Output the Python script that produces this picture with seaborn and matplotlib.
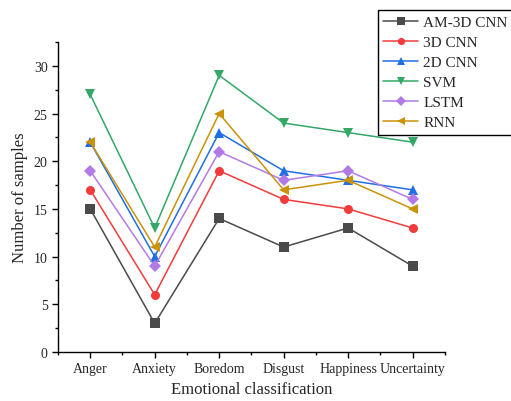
import matplotlib
matplotlib.use("Agg")
import matplotlib.pyplot as plt
import seaborn as sns
import pandas as pd
from matplotlib.ticker import MultipleLocator

# Data
emotions = ["Anger", "Anxiety", "Boredom", "Disgust", "Happiness", "Uncertainty"]
am_3d_cnn = [15, 3, 14, 11, 13, 9]
cnn_3d = [17, 6, 19, 16, 15, 13]
cnn_2d = [22, 10, 23, 19, 18, 17]
svm = [27, 13, 29, 24, 23, 22]
lstm = [19, 9, 21, 18, 19, 16]
rnn = [22, 11, 25, 17, 18, 15]

series = {
    "AM-3D CNN": am_3d_cnn,
    "3D CNN": cnn_3d,
    "2D CNN": cnn_2d,
    "SVM": svm,
    "LSTM": lstm,
    "RNN": rnn,
}

rows = []
for name, vals in series.items():
    for i, v in enumerate(vals):
        rows.append({"x": i, "Emotion": emotions[i], "Model": name, "Samples": v})
df = pd.DataFrame(rows)

palette = {
    "AM-3D CNN": "#4a4a4a",
    "3D CNN": "#f23c3c",
    "2D CNN": "#1e6fe3",
    "SVM": "#33a867",
    "LSTM": "#b27ae6",
    "RNN": "#c99208",
}
markers = {
    "AM-3D CNN": "s",
    "3D CNN": "o",
    "2D CNN": "^",
    "SVM": "v",
    "LSTM": "D",
    "RNN": "<",
}

sns.set_style("ticks")
plt.rcParams["font.family"] = ["Liberation Serif", "DejaVu Serif"]

fig = plt.figure(figsize=(5.11, 4.02), dpi=100)
ax = fig.add_axes([0.1135, 0.122, 0.757, 0.771])

sns.lineplot(data=df, x="x", y="Samples", hue="Model", style="Model",
             palette=palette, markers=markers, dashes=False,
             markersize=6.5, linewidth=1.1, markeredgewidth=0,
             ax=ax, legend="full")

ax.set_xlim(-0.5, 5.5)
ax.set_ylim(0, 32.5)
ax.set_xticks(range(len(emotions)))
ax.set_xticklabels(emotions, fontsize=10)
ax.xaxis.set_minor_locator(MultipleLocator(0.5))
ax.yaxis.set_major_locator(MultipleLocator(5))
ax.yaxis.set_minor_locator(MultipleLocator(2.5))
ax.tick_params(axis="y", labelsize=10)
ax.tick_params(which="major", length=4, width=1, direction="out", color="black")
ax.tick_params(which="minor", length=2.5, width=1, direction="out", color="black")
ax.set_xlabel("Emotional classification", fontsize=12)
ax.set_ylabel("Number of samples", fontsize=12)
sns.despine(ax=ax)
for s in ["left", "bottom"]:
    ax.spines[s].set_color("black")
    ax.spines[s].set_linewidth(1)

handles, labels = ax.get_legend_handles_labels()
ax.legend(handles, labels, loc="upper left", bbox_to_anchor=(0.7397, 0.973),
          bbox_transform=fig.transFigure, fontsize=11, frameon=True,
          fancybox=False, edgecolor="black", framealpha=1, markerscale=0.8,
          handlelength=2.3, labelspacing=0.42, borderpad=0.35,
          borderaxespad=0, handletextpad=0.3)

fig.savefig("out.png", dpi=100)
plt.close(fig)
